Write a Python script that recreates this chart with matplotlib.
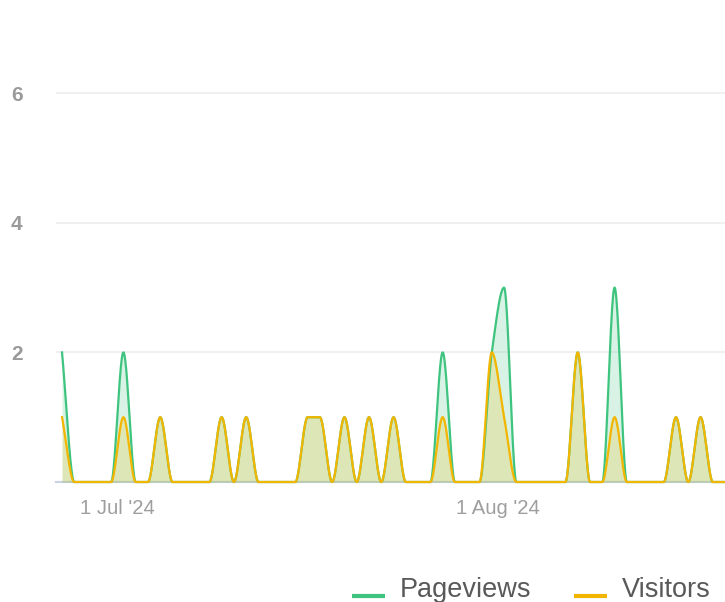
import numpy as np
import pandas as pd
import matplotlib
matplotlib.use("Agg")
from matplotlib import pyplot as plt
import matplotlib.dates as mdates
from matplotlib.lines import Line2D

plt.rcParams['font.family'] = ['Liberation Sans', 'DejaVu Sans']

# daily counts, 26 Jun '24 onwards
dates = pd.date_range('2024-06-26 12:00', periods=56, freq='D')
pageviews = [2, 0, 0, 0, 0, 2, 0, 0, 1, 0,
             0, 0, 0, 1, 0, 1, 0, 0, 0, 0,
             1, 1, 0, 1, 0, 1, 0, 1, 0, 0,
             0, 2, 0, 0, 0, 2, 3, 0, 0, 0,
             0, 0, 2, 0, 0, 3, 0, 0, 0, 0,
             1, 0, 1, 0, 0, 0]
visitors = [1, 0, 0, 0, 0, 1, 0, 0, 1, 0,
            0, 0, 0, 1, 0, 1, 0, 0, 0, 0,
            1, 1, 0, 1, 0, 1, 0, 1, 0, 0,
            0, 1, 0, 0, 0, 2, 1, 0, 0, 0,
            0, 0, 2, 0, 0, 1, 0, 0, 0, 0,
            1, 0, 1, 0, 0, 0]
series = ['Pageviews', 'Visitors']
colors = ['#3ec47f', '#f2b600']


def monotone(x, y, n=40):
    """Fritsch-Carlson monotone cubic, sampled densely"""
    x = np.asarray(x, float)
    y = np.asarray(y, float)
    h = np.diff(x)
    d = np.diff(y) / h
    m = np.zeros_like(y)
    m[0], m[-1] = d[0], d[-1]
    for k in range(1, len(y) - 1):
        if d[k - 1] * d[k] > 0:
            m[k] = 2.0 / (1.0 / d[k - 1] + 1.0 / d[k])
    xs, ys = [], []
    for k in range(len(h)):
        t = np.linspace(0, 1, n, endpoint=False)
        h00 = 2 * t**3 - 3 * t**2 + 1
        h10 = t**3 - 2 * t**2 + t
        h01 = -2 * t**3 + 3 * t**2
        h11 = t**3 - t**2
        xs.append(x[k] + t * h[k])
        ys.append(h00 * y[k] + h10 * h[k] * m[k] + h01 * y[k + 1] + h11 * h[k] * m[k + 1])
    xs.append([x[-1]])
    ys.append([y[-1]])
    return np.concatenate(xs), np.concatenate(ys)


fig = plt.figure(figsize=(7.25, 6.02), dpi=100)
ax = fig.add_axes([56 / 725, 120 / 602, 669 / 725, 453.6 / 602])

xnum = mdates.date2num(dates)
for vals, col in zip([pageviews, visitors], colors):
    xs, ys = monotone(xnum, vals)
    ax.fill_between(xs, 0, ys, color=col, alpha=0.2, lw=0, zorder=2)
    ax.plot(xs, ys, color=col, lw=1.6, zorder=3, clip_on=False)

ax.axhline(0, color='#c9d2e2', lw=1.6, zorder=1, clip_on=False)

ax.set_ylim(0, 7)
ax.set_xlim(xnum[0] - 0.49, xnum[0] + 53.99)
ax.set_yticks([2, 4, 6])
ax.yaxis.grid(True, color='#eeeeee', lw=1.2)
ax.set_axisbelow(True)
for s in ax.spines.values():
    s.set_visible(False)

ax.xaxis.set_major_locator(mdates.DayLocator(bymonthday=1))
ax.xaxis.set_major_formatter(mdates.DateFormatter("%-d %b '%y"))
ax.tick_params(axis='x', length=0, pad=12, labelsize=14.6, labelcolor='#9e9e9e')
ax.tick_params(axis='y', length=0, pad=24, labelsize=15, labelcolor='#9a9a9a')
for lbl in ax.get_yticklabels():
    lbl.set_fontweight('bold')

# legend at the bottom
leg_x = [352, 574]
for name, col, lx in zip(series, colors, leg_x):
    fig.add_artist(Line2D([lx / 725, (lx + 33) / 725], [6 / 602, 6 / 602],
                          transform=fig.transFigure, color=col, lw=3,
                          solid_capstyle='butt'))
    fig.text((lx + 48) / 725, 5 / 602, name, fontsize=19.5, color='#595959',
             va='baseline', ha='left')

plt.savefig("out.png", dpi=100)
